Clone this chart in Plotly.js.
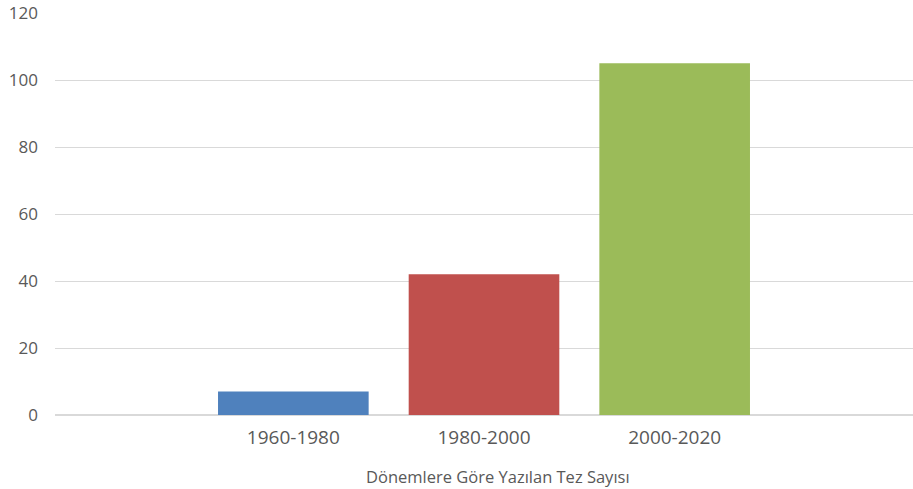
<!DOCTYPE html>
<html>
<head>
<meta charset="utf-8">
<script src="https://cdn.plot.ly/plotly-3.0.1.min.js"></script>
<style>html,body{margin:0;padding:0;background:#fff;}#chart{width:913px;height:489px;}</style>
</head>
<body>
<div id="chart"></div>
<script>
const categories = ["1960-1980", "1980-2000", "2000-2020"];
const values = [7, 42, 105];
const barColors = ["#4f81bd", "#c0504d", "#9bbb59"];
const xTitle = "Dönemlere Göre Yazılan Tez Sayısı";

const trace = {
  type: "bar",
  x: categories,
  y: values,
  width: 0.79,
  marker: { color: barColors },
  hoverinfo: "x+y"
};

const layout = {
  width: 913,
  height: 489,
  margin: { l: 55, r: 0, t: 13, b: 74 },
  paper_bgcolor: "#ffffff",
  plot_bgcolor: "#ffffff",
  font: { family: "Open Sans, sans-serif", color: "#595959" },
  showlegend: false,
  xaxis: {
    type: "category",
    range: [-1.25, 3.25],
    showgrid: false,
    showline: false,
    zeroline: false,
    ticks: "",
    tickfont: { size: 19, color: "#595959" },
    ticklabelstandoff: 9
  },
  yaxis: {
    range: [0, 120],
    dtick: 20,
    tick0: 0,
    showgrid: true,
    gridcolor: "#d9d9d9",
    gridwidth: 1,
    zeroline: true,
    zerolinecolor: "#d9d9d9",
    zerolinewidth: 2,
    showline: false,
    ticks: "",
    tickfont: { size: 17, color: "#595959" },
    ticklabelstandoff: 16
  },
  annotations: [{
    text: xTitle,
    xref: "paper", yref: "paper",
    x: 0.516, y: -0.152,
    xanchor: "center", yanchor: "middle",
    showarrow: false,
    font: { size: 16.5, color: "#595959" }
  }]
};

Plotly.newPlot("chart", [trace], layout, { displayModeBar: false, staticPlot: true });
</script>
</body>
</html>
